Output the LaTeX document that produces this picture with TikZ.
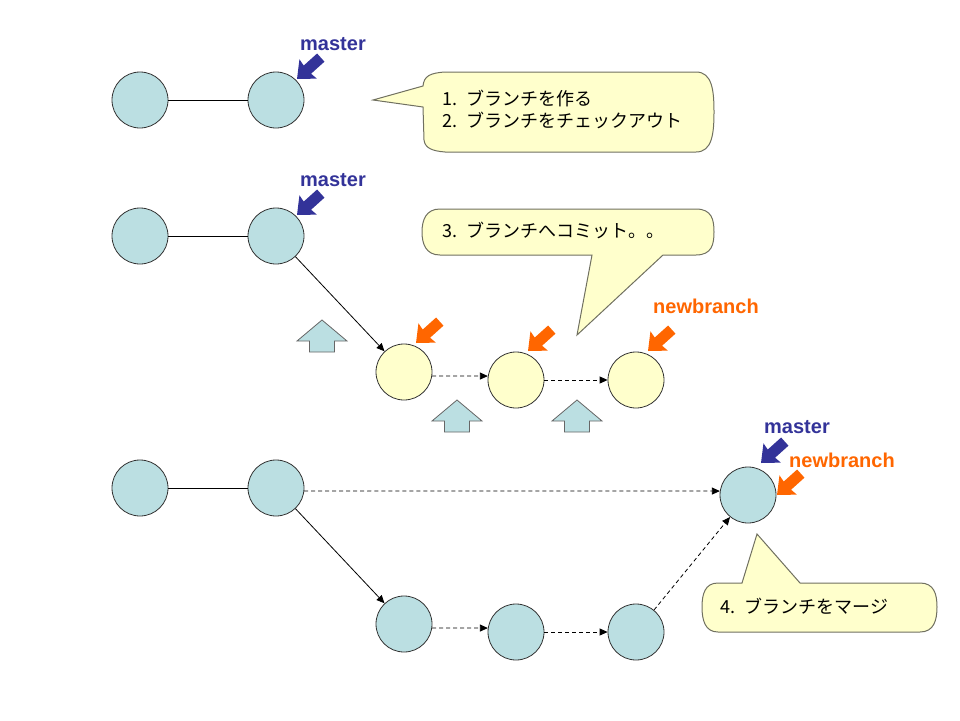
\documentclass[tikz,border=0pt]{standalone}
\usepackage{fontspec}
\setmainfont{Liberation Sans}
\newfontfamily\jpfont{Noto Sans CJK JP}
\usepackage{tikz}
\usetikzlibrary{arrows.meta}
\definecolor{commitblue}{HTML}{BBDFE2}
\definecolor{commityellow}{HTML}{FFFFCC}
\definecolor{masterblue}{HTML}{333399}
\definecolor{branchorange}{HTML}{FF6600}
\definecolor{calloutline}{HTML}{707060}

\begin{document}
\begin{tikzpicture}[x=1pt, y=-1pt,
	pointer/.pic={\fill[pic actions] (0,0) -- (-15,13) -- (-14,5.5) -- (-32,5.5)
		-- (-32,-5.5) -- (-14,-5.5) -- (-15,-13) -- cycle;},
	uparrow/.pic={\filldraw[pic actions] (0,0) -- (25,21) -- (12.5,21) -- (12.5,32)
		-- (-12.5,32) -- (-12.5,21) -- (-25,21) -- cycle;},
	checkout/.style={draw=black!60, fill=commitblue, line width=0.8pt},
	callout/.style={fill=commityellow, draw=calloutline, line width=1pt}]
	\useasboundingbox (0,0) rectangle (960,720);
	% callouts
	\draw[callout] (445,72) -- (696,72) .. controls (712,72) and (714,90) .. (714,112)
		.. controls (714,134) and (712,152) .. (696,152) -- (445,152)
		.. controls (432,151) and (425,148) .. (424,140) -- (423,107) -- (373,100)
		-- (423,86) .. controls (424,76) and (430,73) .. (445,72) -- cycle;
	\draw[callout] (440,209) -- (696,209) .. controls (712,209) and (714,220) .. (714,232)
		.. controls (714,244) and (712,255) .. (696,255) -- (663,255) -- (577,335)
		-- (592,255) -- (440,255) .. controls (426,255) and (422,244) .. (422,232)
		.. controls (422,220) and (426,209) .. (440,209) -- cycle;
	\draw[callout] (718,583) -- (742,583) -- (757,534) -- (800,583) -- (920,583)
		.. controls (934,583) and (937,594) .. (937,607)
		.. controls (937,620) and (934,632) .. (920,632) -- (718,632)
		.. controls (705,632) and (702,620) .. (702,607)
		.. controls (702,594) and (705,583) .. (718,583) -- cycle;
	\begin{scope}[every node/.style={anchor=west, font=\jpfont\fontsize{18}{22}\selectfont}]
		\node[align=left] (step12) at (439,109) {1.\hspace{0.5em}ブランチを作る\\2.\hspace{0.5em}ブランチをチェックアウト};
		\node (step3) at (439,230) {3.\hspace{0.5em}ブランチへコミット。。};
		\node (step4) at (717,606) {4.\hspace{0.5em}ブランチをマージ};
	\end{scope}
	% commits
	\begin{scope}[every node/.style={circle, draw=black!80, line width=0.8pt,
			fill=commitblue, minimum size=56pt, inner sep=0pt}]
		\node (A1) at (140,100) {};
		\node (B1) at (276,100) {};
		\node (A2) at (140,236) {};
		\node (B2) at (276,236) {};
		\node[fill=commityellow] (C2) at (404,372) {};
		\node[fill=commityellow] (D2) at (516,380) {};
		\node[fill=commityellow] (E2) at (636,380) {};
		\node (A3) at (140,488) {};
		\node (B3) at (276,488) {};
		\node (C3) at (404,624) {};
		\node (D3) at (516,632) {};
		\node (E3) at (636,632) {};
		\node (M3) at (748,495) {};
	\end{scope}
	\begin{scope}[>={Triangle[length=8pt, width=7pt]},
			every edge/.style={draw=black, line width=0.8pt}]
		\path (A1) edge (B1);
		\path (A2) edge (B2);
		\path (A3) edge (B3);
		\path [->] (B2) edge (C2);
		\path [->] (B3) edge (C3);
		\path [->, dash pattern=on 4pt off 3pt] (C2.-8) edge (D2.172);
		\path [->, dash pattern=on 4pt off 3pt] (D2) edge (E2);
		\path [->, dash pattern=on 4pt off 3pt] (C3.-8) edge (D3.172);
		\path [->, dash pattern=on 4pt off 3pt] (D3) edge (E3);
		\path [->, dash pattern=on 4pt off 3pt] (B3.-6) edge (M3.172);
		\path [->, dash pattern=on 4pt off 3pt] (E3) edge (M3);
	\end{scope}
	% branch labels
	\begin{scope}[every node/.style={font=\bfseries\fontsize{20}{20}\selectfont}]
		\node[text=masterblue] (master1) at (333,44) {master};
		\node[text=masterblue] (master2) at (333,180) {master};
		\node[text=branchorange] (newbranch2) at (706,306) {newbranch};
		\node[text=masterblue] (master3) at (797,427) {master};
		\node[text=branchorange] (newbranch3) at (842,460) {newbranch};
	\end{scope}
	\path (297,79) pic[rotate=222, fill=masterblue] {pointer};
	\path (297,215) pic[rotate=222, fill=masterblue] {pointer};
	\path (416,343) pic[rotate=222, fill=branchorange] {pointer};
	\path (528,351) pic[rotate=222, fill=branchorange] {pointer};
	\path (648,351) pic[rotate=222, fill=branchorange] {pointer};
	\path (761,463) pic[rotate=222, fill=masterblue] {pointer};
	\path (777,495) pic[rotate=222, fill=branchorange] {pointer};
	% checkout arrows
	\path (322,320) pic[checkout] {uparrow};
	\path (457,400) pic[checkout] {uparrow};
	\path (577,400) pic[checkout] {uparrow};
\end{tikzpicture}
\end{document}
